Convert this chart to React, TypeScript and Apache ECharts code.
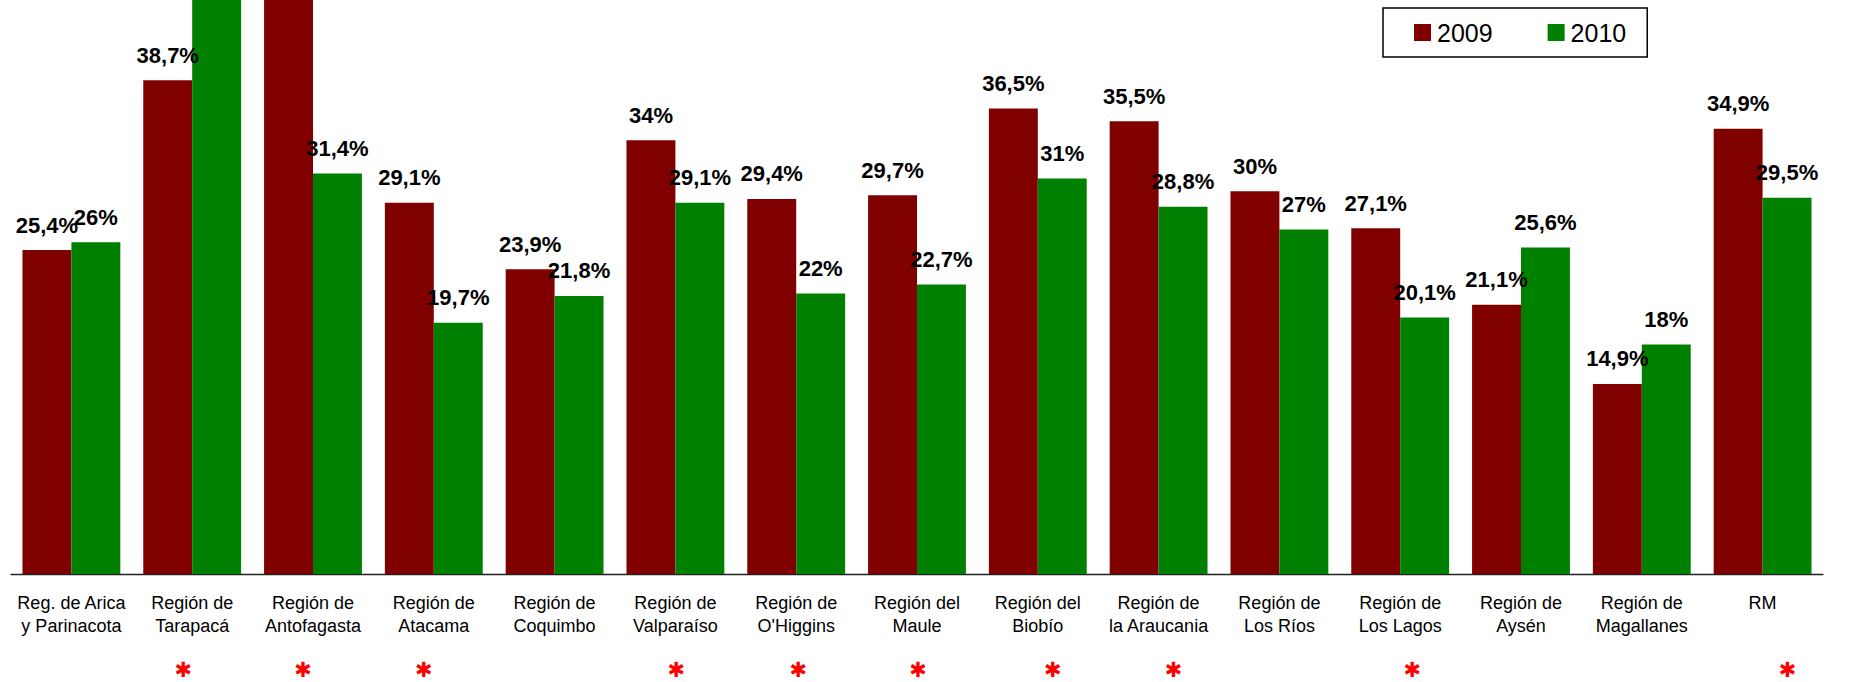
import React, { useEffect, useRef } from "react";
import * as echarts from "echarts";

const categories = [
  "Reg. de Arica\ny Parinacota",
  "Región de\nTarapacá",
  "Región de\nAntofagasta",
  "Región de\nAtacama",
  "Región de\nCoquimbo",
  "Región de\nValparaíso",
  "Región de\nO'Higgins",
  "Región del\nMaule",
  "Región del\nBiobío",
  "Región de\nla Araucania",
  "Región de\nLos Ríos",
  "Región de\nLos Lagos",
  "Región de\nAysén",
  "Región de\nMagallanes",
  "RM",
];

// 2009 and 2010 values (%); the two clipped bars are estimated (above chart top)
const values2009 = [25.4, 38.7, 47.0, 29.1, 23.9, 34, 29.4, 29.7, 36.5, 35.5, 30, 27.1, 21.1, 14.9, 34.9];
const values2010 = [26, 47.5, 31.4, 19.7, 21.8, 29.1, 22, 22.7, 31, 28.8, 27, 20.1, 25.6, 18, 29.5];

const seriesNames = ["2009", "2010"];
const Y_MAX = 45;

// categories marked with a red asterisk below the axis
const starredIdx = [1, 2, 3, 5, 6, 7, 8, 9, 11, 14];
const starShift: Record<number, number> = { 1: -9, 2: -10, 3: -10, 5: 1, 6: 2, 7: 1, 8: 15, 9: 15, 11: 12, 14: 25 };

const FONT = "'Liberation Sans', Arial, sans-serif";

const fmt = (v: number) => (v > Y_MAX ? "" : String(v).replace(".", ",") + "%");

export default function App() {
  const ref = useRef<HTMLDivElement>(null);

  useEffect(() => {
    document.body.style.margin = "0";
    const chart = echarts.init(ref.current!, undefined, { renderer: "svg" });
    const labelCfg = {
      show: true,
      position: "top" as const,
      distance: 14,
      fontFamily: FONT,
      fontWeight: "bold" as const,
      fontSize: 22,
      color: "#000",
      formatter: (p: any) => fmt(p.value),
    };
    chart.setOption({
      animation: false,
      backgroundColor: "#fff",
      textStyle: { fontFamily: FONT },
      legend: {
        left: 1383,
        top: 8,
        padding: [12, 21, 12, 31],
        itemWidth: 17,
        itemHeight: 17,
        itemGap: 55,
        borderColor: "#000",
        borderWidth: 1.5,
        icon: "rect",
        textStyle: { fontFamily: FONT, fontSize: 25, color: "#000", lineHeight: 25, padding: [0, 0, 0, 1] },
        data: seriesNames,
      },
      grid: { left: 11, right: 40, top: 0, bottom: 108, containLabel: false },
      xAxis: {
        type: "category",
        data: categories,
        axisLine: { lineStyle: { color: "#222", width: 1.3 } },
        axisTick: { length: 5, lineStyle: { color: "#222" } },
        axisLabel: {
          interval: 0,
          margin: 17,
          fontFamily: FONT,
          fontSize: 18,
          lineHeight: 23,
          color: "#000",
        },
      },
      yAxis: {
        type: "value",
        min: 0,
        max: Y_MAX,
        show: false,
        splitLine: { show: false },
      },
      series: [
        {
          name: seriesNames[0],
          type: "bar",
          data: values2009,
          barGap: "0%",
          barCategoryGap: "19%",
          itemStyle: { color: "#800000" },
          label: labelCfg,
        },
        {
          name: seriesNames[1],
          type: "bar",
          data: values2010,
          itemStyle: { color: "#008000" },
          label: labelCfg,
        },
      ],
    });

    const stars = starredIdx.map((i) => {
      const x = chart.convertToPixel({ xAxisIndex: 0 }, categories[i]) as number;
      return {
        type: "text",
        x: x + (starShift[i] || 0),
        y: 670,
        style: {
          text: "✱",
          fill: "#ff0000",
          fontFamily: "'DejaVu Sans', sans-serif",
          fontWeight: "bold",
          fontSize: 21,
          lineHeight: 21,
          align: "center",
          verticalAlign: "middle",
        },
      };
    });
    chart.setOption({ graphic: stars });

    return () => chart.dispose();
  }, []);

  return <div ref={ref} style={{ width: 1863, height: 682 }} />;
}
